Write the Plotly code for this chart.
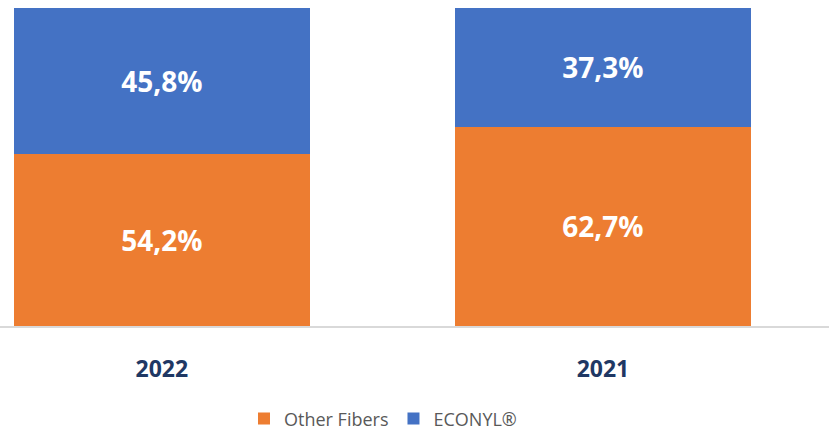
import plotly.graph_objects as go

categories = ["2022", "2021"]
other_fibers = [54.2, 62.7]
econyl = [45.8, 37.3]
other_labels = ["54,2%", "62,7%"]
econyl_labels = ["45,8%", "37,3%"]

ORANGE = "#ED7D31"
BLUE = "#4472C4"

fig = go.Figure()
fig.add_trace(go.Bar(
    x=categories, y=other_fibers, name="Other Fibers",
    marker=dict(color=ORANGE, line=dict(width=0)),
    text=other_labels, textposition="inside", insidetextanchor="middle",
    textfont=dict(family="Open Sans", size=28, color="white", weight="bold"),
    width=0.671, hoverinfo="skip",
))
fig.add_trace(go.Bar(
    x=categories, y=econyl, name="ECONYL®",
    marker=dict(color=BLUE, line=dict(width=0)),
    text=econyl_labels, textposition="inside", insidetextanchor="middle",
    textfont=dict(family="Open Sans", size=28, color="white", weight="bold"),
    width=0.671, hoverinfo="skip",
))

fig.update_layout(
    barmode="stack",
    width=829, height=432,
    margin=dict(l=0, r=0, t=0, b=106, autoexpand=False),
    paper_bgcolor="white", plot_bgcolor="white",
    xaxis=dict(
        type="category",
        range=[-0.367, 1.5125],
        showline=True, linecolor="#D9D9D9", linewidth=1.5,
        showgrid=False, zeroline=False,
        ticks="outside", ticklen=22, tickcolor="rgba(0,0,0,0)",
        tickfont=dict(family="Open Sans", size=23, color="#1F3864", weight="bold"),
    ),
    yaxis=dict(
        range=[0, 102.5], visible=False, showgrid=False, zeroline=False,
    ),
    legend=dict(
        orientation="h", x=0.462, xanchor="center", y=-0.285, yanchor="middle",
        font=dict(family="Open Sans", size=18, color="#595959"),
        itemwidth=30, traceorder="normal",
    ),
    showlegend=True,
)

fig.write_html(
    "out.html",
    config={"displayModeBar": False},
    post_script="document.body.style.margin='0';document.body.style.overflow='hidden';",
)
